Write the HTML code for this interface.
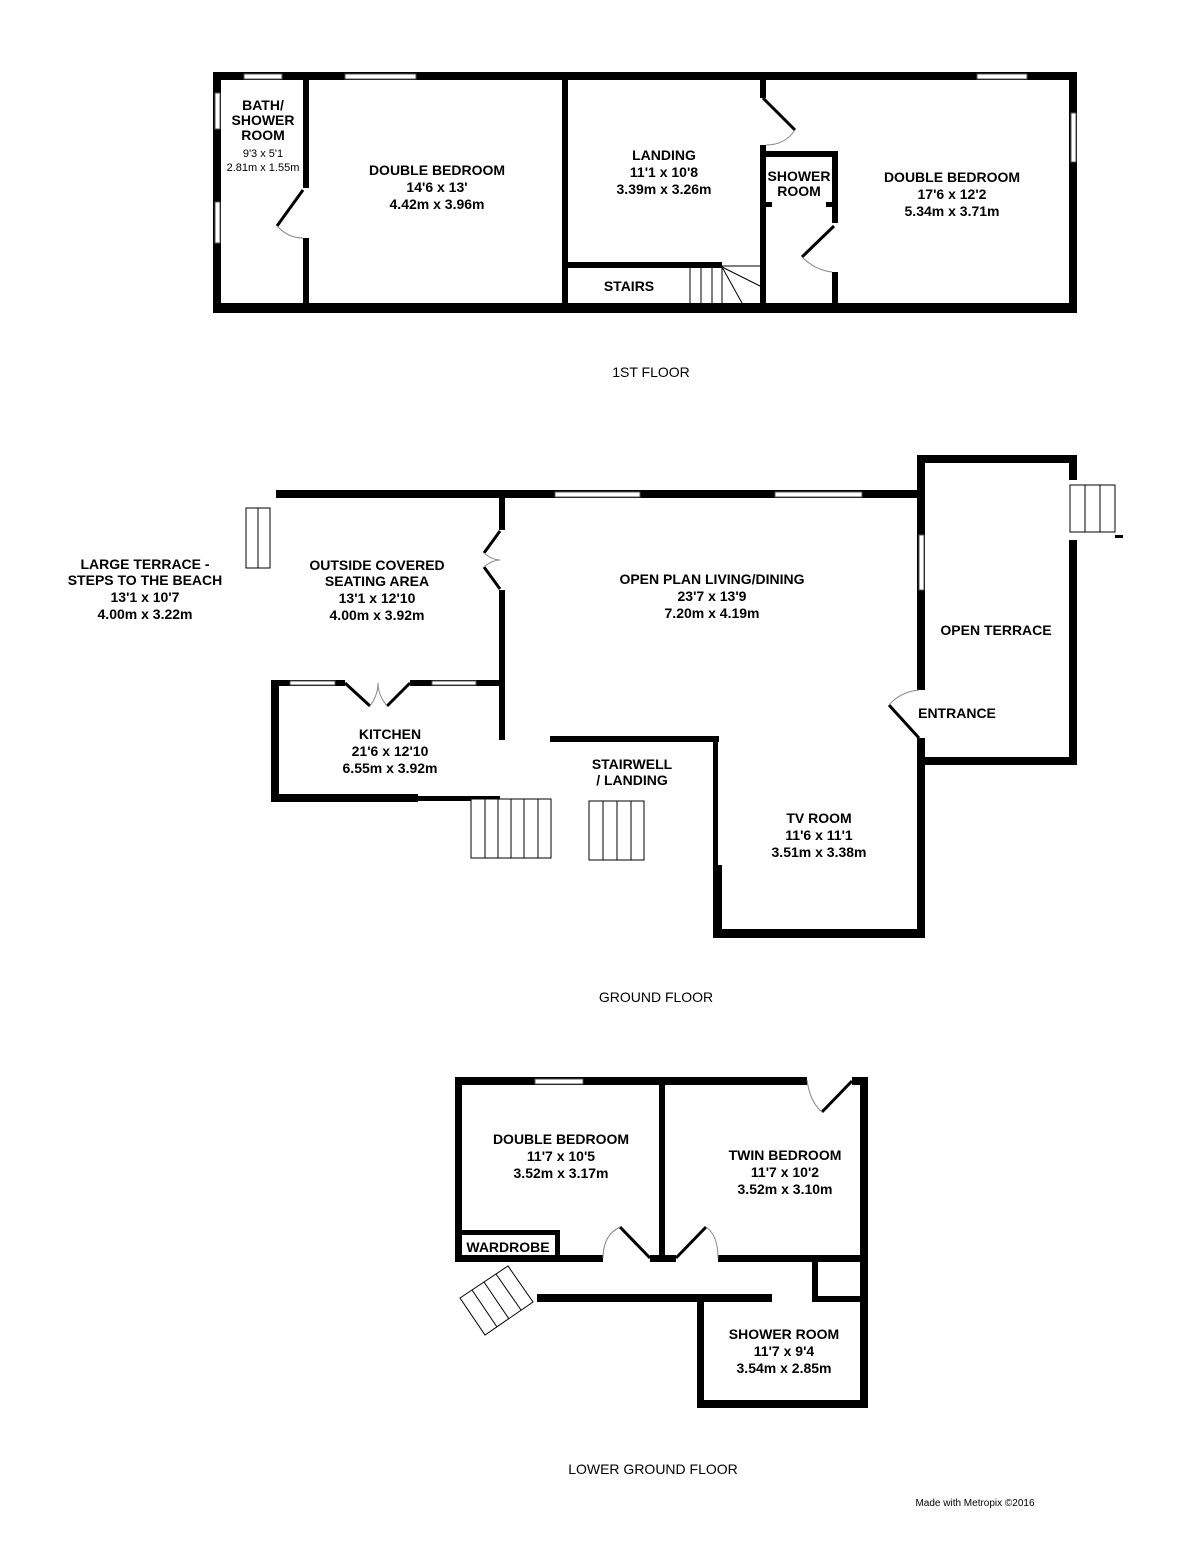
<!DOCTYPE html>
<html><head><meta charset="utf-8"><style>
html,body{margin:0;padding:0;background:#fff;}
svg{display:block}
text{font-family:"Liberation Sans",Arial,sans-serif;font-weight:bold;font-size:14px;fill:#000;text-anchor:middle}
.n{font-weight:normal}
.s{font-size:11px}
</style></head><body>
<svg width="1200" height="1546" viewBox="0 0 1200 1546" xmlns="http://www.w3.org/2000/svg">
<g fill="#000">
<!-- 1ST FLOOR -->
<rect x="213" y="72" width="864" height="8"/>
<rect x="213" y="303" width="864" height="10"/>
<rect x="213" y="72" width="8" height="241"/>
<rect x="1069" y="72" width="8" height="241"/>
<rect x="303" y="80" width="6" height="108"/>
<rect x="303" y="238" width="6" height="65"/>
<rect x="562" y="80" width="6" height="223"/>
<rect x="760" y="80" width="6" height="18"/>
<rect x="760" y="145" width="6" height="158"/>
<rect x="760" y="151" width="78" height="6"/>
<rect x="832" y="151" width="6" height="72"/>
<rect x="832" y="272" width="6" height="31"/>
<rect x="766" y="202" width="6" height="5"/>
<rect x="826" y="202" width="6" height="5"/>
<rect x="562" y="262" width="160" height="6"/>
</g>
<g fill="#fff" stroke="#555" stroke-width="1">
<rect x="244" y="74" width="38" height="5"/>
<rect x="345" y="74" width="71" height="5"/>
<rect x="977" y="74" width="50" height="5"/>
<rect x="215" y="93" width="5" height="36"/>
<rect x="215" y="202" width="5" height="41"/>
<rect x="1071" y="113" width="5" height="49"/>
</g>
<g stroke="#000" stroke-width="3" fill="none">
<line x1="303" y1="190" x2="277" y2="226"/>
<line x1="763" y1="98" x2="795" y2="130"/>
<line x1="834" y1="226" x2="802" y2="257"/>
</g>
<g stroke="#888" stroke-width="1" fill="none">
<path d="M277 226 Q288 238 303 238"/>
<path d="M795 130 Q785 145 766 145"/>
<path d="M802 257 Q815 270 832 272"/>
</g>
<g stroke="#000" stroke-width="1" fill="none">
<line x1="690" y1="268" x2="690" y2="303"/>
<line x1="701" y1="268" x2="701" y2="303"/>
<line x1="712" y1="268" x2="712" y2="303"/>
<line x1="722" y1="268" x2="722" y2="303"/>
<line x1="722" y1="266" x2="760" y2="266"/>
<line x1="722" y1="267" x2="760" y2="286"/>
<line x1="722" y1="267" x2="742" y2="303"/>
</g>
<text x="263" y="110">BATH/</text>
<text x="263" y="125">SHOWER</text>
<text x="263" y="140">ROOM</text>
<text x="263" y="157" class="n s">9'3 x 5'1</text>
<text x="263" y="171" class="n s">2.81m x 1.55m</text>
<text x="437" y="175">DOUBLE BEDROOM</text>
<text x="437" y="192">14'6 x 13'</text>
<text x="437" y="209">4.42m x 3.96m</text>
<text x="664" y="160">LANDING</text>
<text x="664" y="177">11'1 x 10'8</text>
<text x="664" y="194">3.39m x 3.26m</text>
<text x="799" y="181">SHOWER</text>
<text x="799" y="196">ROOM</text>
<text x="952" y="182">DOUBLE BEDROOM</text>
<text x="952" y="199">17'6 x 12'2</text>
<text x="952" y="216">5.34m x 3.71m</text>
<text x="629" y="291">STAIRS</text>
<text x="651" y="377" class="n">1ST FLOOR</text>

<!-- GROUND FLOOR -->
<g fill="#000">
<rect x="276" y="490" width="646" height="8"/>
<rect x="917" y="455" width="160" height="8"/>
<rect x="917" y="455" width="8" height="235"/>
<rect x="917" y="738" width="8" height="200"/>
<rect x="1069" y="455" width="8" height="25"/>
<rect x="1069" y="540" width="8" height="225"/>
<rect x="917" y="757" width="160" height="8"/>
<rect x="1115" y="535" width="8" height="3"/>
<rect x="499" y="498" width="6" height="32"/>
<rect x="499" y="590" width="6" height="150"/>
<rect x="271" y="680" width="234" height="6"/>
<rect x="271" y="680" width="8" height="122"/>
<rect x="271" y="794" width="147" height="8"/>
<rect x="418" y="796" width="82" height="5"/>
<rect x="550" y="736" width="169" height="6"/>
<rect x="713" y="736" width="5" height="130"/>
<rect x="713" y="865" width="9" height="73"/>
<rect x="713" y="929" width="212" height="9"/>
</g>
<g fill="#fff" stroke="#555" stroke-width="1">
<rect x="555" y="492" width="85" height="5"/>
<rect x="775" y="492" width="87" height="5"/>
<rect x="919" y="535" width="5" height="55"/>
<rect x="290" y="681" width="45" height="4"/>
<rect x="432" y="681" width="44" height="4"/>
<rect x="345" y="680" width="65" height="7" stroke="none"/>
</g>
<g stroke="#000" stroke-width="3" fill="none">
<line x1="500" y1="531" x2="484" y2="553"/>
<line x1="500" y1="589" x2="484" y2="567"/>
<line x1="345" y1="683" x2="370" y2="706"/>
<line x1="410" y1="683" x2="387" y2="706"/>
<line x1="919" y1="738" x2="889" y2="705"/>
</g>
<g stroke="#888" stroke-width="1" fill="none">
<path d="M484 553 Q492 560 500 560 Q492 560 484 567"/>
<path d="M370 706 Q378 695 378 683 Q378 695 387 706"/>
<path d="M889 705 Q900 692 919 690"/>
</g>
<g stroke="#000" stroke-width="1" fill="#fff">
<rect x="1070" y="485" width="45" height="47"/>
<line x1="1085" y1="485" x2="1085" y2="532"/>
<line x1="1100" y1="485" x2="1100" y2="532"/>
<rect x="246" y="508" width="24" height="60"/>
<line x1="258" y1="508" x2="258" y2="568"/>
<rect x="471" y="799" width="80" height="59"/>
<line x1="485" y1="799" x2="485" y2="858"/>
<line x1="498" y1="799" x2="498" y2="858"/>
<line x1="511" y1="799" x2="511" y2="858"/>
<line x1="524" y1="799" x2="524" y2="858"/>
<line x1="538" y1="799" x2="538" y2="858"/>
<rect x="589" y="801" width="55" height="59"/>
<line x1="603" y1="801" x2="603" y2="860"/>
<line x1="617" y1="801" x2="617" y2="860"/>
<line x1="631" y1="801" x2="631" y2="860"/>
</g>
<text x="145" y="569">LARGE TERRACE -</text>
<text x="145" y="585">STEPS TO THE BEACH</text>
<text x="145" y="602">13'1 x 10'7</text>
<text x="145" y="619">4.00m x 3.22m</text>
<text x="377" y="570">OUTSIDE COVERED</text>
<text x="377" y="586">SEATING AREA</text>
<text x="377" y="603">13'1 x 12'10</text>
<text x="377" y="620">4.00m x 3.92m</text>
<text x="712" y="584">OPEN PLAN LIVING/DINING</text>
<text x="712" y="601">23'7 x 13'9</text>
<text x="712" y="618">7.20m x 4.19m</text>
<text x="996" y="635">OPEN TERRACE</text>
<text x="957" y="718">ENTRANCE</text>
<text x="390" y="739">KITCHEN</text>
<text x="390" y="756">21'6 x 12'10</text>
<text x="390" y="773">6.55m x 3.92m</text>
<text x="632" y="769">STAIRWELL</text>
<text x="632" y="785">/ LANDING</text>
<text x="819" y="823">TV ROOM</text>
<text x="819" y="840">11'6 x 11'1</text>
<text x="819" y="857">3.51m x 3.38m</text>
<text x="656" y="1002" class="n">GROUND FLOOR</text>

<!-- LOWER GROUND FLOOR -->
<g fill="#000">
<rect x="455" y="1077" width="352" height="8"/>
<rect x="852" y="1077" width="16" height="8"/>
<rect x="455" y="1077" width="7" height="185"/>
<rect x="659" y="1085" width="6" height="177"/>
<rect x="860" y="1077" width="8" height="331"/>
<rect x="455" y="1255" width="148" height="7"/>
<rect x="650" y="1255" width="26" height="7"/>
<rect x="718" y="1255" width="144" height="7"/>
<rect x="455" y="1230" width="105" height="5"/>
<rect x="555" y="1230" width="5" height="28"/>
<rect x="812" y="1262" width="6" height="40"/>
<rect x="812" y="1296" width="50" height="6"/>
<rect x="537" y="1294" width="235" height="8"/>
<rect x="697" y="1294" width="7" height="114"/>
<rect x="697" y="1400" width="171" height="8"/>
</g>
<rect x="535" y="1079" width="48" height="5" fill="#fff" stroke="#555" stroke-width="1"/>
<g stroke="#000" stroke-width="3" fill="none">
<line x1="852" y1="1081" x2="822" y2="1112"/>
<line x1="620" y1="1227" x2="650" y2="1258"/>
<line x1="706" y1="1227" x2="676" y2="1258"/>
</g>
<g stroke="#888" stroke-width="1" fill="none">
<path d="M807 1080 Q810 1102 822 1112"/>
<path d="M620 1227 Q603 1235 603 1258"/>
<path d="M706 1227 Q718 1235 718 1258"/>
</g>
<g stroke="#000" stroke-width="1" fill="#fff">
<polygon points="460,1298 508,1266 533,1302 485,1335"/>
<line x1="472" y1="1290" x2="497" y2="1327"/>
<line x1="484" y1="1282" x2="509" y2="1319"/>
<line x1="496" y1="1274" x2="521" y2="1310"/>
</g>
<text x="561" y="1144">DOUBLE BEDROOM</text>
<text x="561" y="1161">11'7 x 10'5</text>
<text x="561" y="1178">3.52m x 3.17m</text>
<text x="785" y="1160">TWIN BEDROOM</text>
<text x="785" y="1177">11'7 x 10'2</text>
<text x="785" y="1194">3.52m x 3.10m</text>
<text x="508" y="1252">WARDROBE</text>
<text x="784" y="1339">SHOWER ROOM</text>
<text x="784" y="1356">11'7 x 9'4</text>
<text x="784" y="1373">3.54m x 2.85m</text>
<text x="653" y="1474" class="n">LOWER GROUND FLOOR</text>
<text x="975" y="1506" class="n" style="font-size:10px">Made with Metropix ©2016</text>
</svg>
</body></html>
